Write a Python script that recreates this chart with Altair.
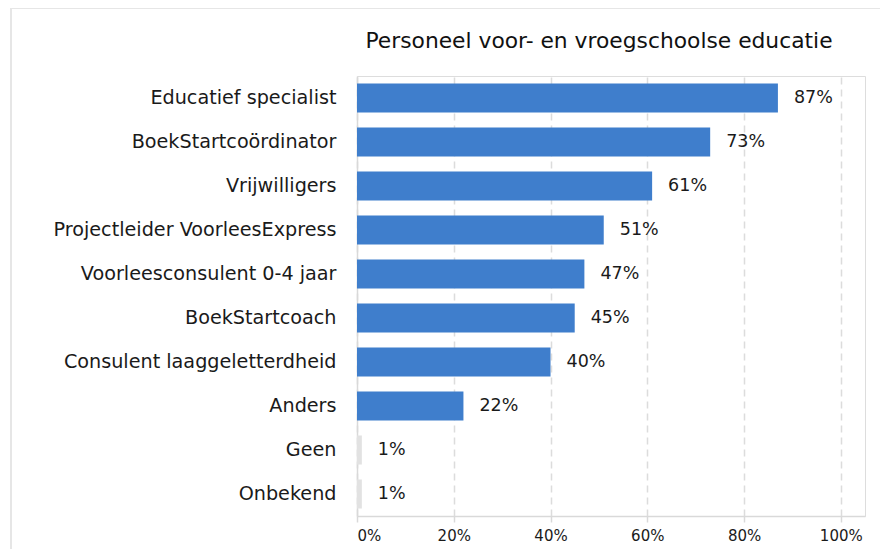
import altair as alt
import pandas as pd

categories = [
    "Educatief specialist",
    "BoekStartcoördinator",
    "Vrijwilligers",
    "Projectleider VoorleesExpress",
    "Voorleesconsulent 0-4 jaar",
    "BoekStartcoach",
    "Consulent laaggeletterdheid",
    "Anders",
    "Geen",
    "Onbekend",
]
values = [87, 73, 61, 51, 47, 45, 40, 22, 1, 1]
muted = ["Geen", "Onbekend"]
tick_values = [0, 20, 40, 60, 80, 100]

df = pd.DataFrame({"cat": categories, "val": values})
df["kind"] = ["muted" if c in muted else "main" for c in categories]
df["label"] = [f"{v}%" for v in values]

FONT = "DejaVu Sans"
W, H = 508, 440

x = alt.X(
    "val:Q",
    scale=alt.Scale(domain=[0, 105], nice=False),
    axis=alt.Axis(
        values=tick_values,
        labelExpr="datum.value + '%'",
        title=None,
        grid=True,
        gridDash=[7, 5],
        gridColor="#dcdcdc",
        gridWidth=1.5,
        domainColor="#d9d9d9",
        domainWidth=1.5,
        tickColor="#d9d9d9",
        tickSize=6,
        tickWidth=1.5,
        labelFont=FONT,
        labelFontSize=15,
        labelColor="#1a1a1a",
        labelPadding=6,
    ),
)
y = alt.Y(
    "cat:N",
    sort=categories,
    scale=alt.Scale(paddingInner=0.34, paddingOuter=0.17),
    axis=alt.Axis(
        title=None,
        ticks=False,
        domainColor="#d9d9d9",
        domainWidth=1.5,
        labelFont=FONT,
        labelFontSize=19.2,
        labelColor="#1a1a1a",
        labelPadding=21,
        labelLimit=400,
    ),
)

bars = alt.Chart(df).mark_bar().encode(
    x=x,
    y=y,
    color=alt.Color(
        "kind:N",
        scale=alt.Scale(domain=["main", "muted"], range=["#3f7ecc", "#e2e2e2"]),
        legend=None,
    ),
)

text = alt.Chart(df).mark_text(
    align="left", baseline="middle", dx=16, font=FONT, fontSize=17.5, color="#1a1a1a"
).encode(x="val:Q", y=alt.Y("cat:N", sort=categories), text="label:N")

frame_v = alt.Chart(df).mark_rule(color="#e6e6e6", strokeWidth=2).encode(
    x=alt.value(-346), y=alt.value(-68), y2=alt.value(H + 40)
)
frame_h = alt.Chart(df).mark_rule(color="#e6e6e6", strokeWidth=2).encode(
    x=alt.value(-346), x2=alt.value(W + 40), y=alt.value(-68)
)

chart = (
    alt.layer(frame_v, frame_h, bars, text)
    .properties(
        width=W,
        height=H,
        title=alt.TitleParams(
            "Personeel voor- en vroegschoolse educatie",
            font=FONT,
            fontSize=21.8,
            fontWeight="normal",
            color="#111111",
            anchor="middle",
            frame="group",
            offset=-46,
            dx=-12,
        ),
        autosize=alt.AutoSizeParams(type="none"),
        padding={"left": 349, "top": 68, "right": 15, "bottom": 33},
    )
    .configure_view(stroke=None)
    .configure(background="white")
)

chart.save("out.html", embed_options={"renderer": "svg", "actions": False})
